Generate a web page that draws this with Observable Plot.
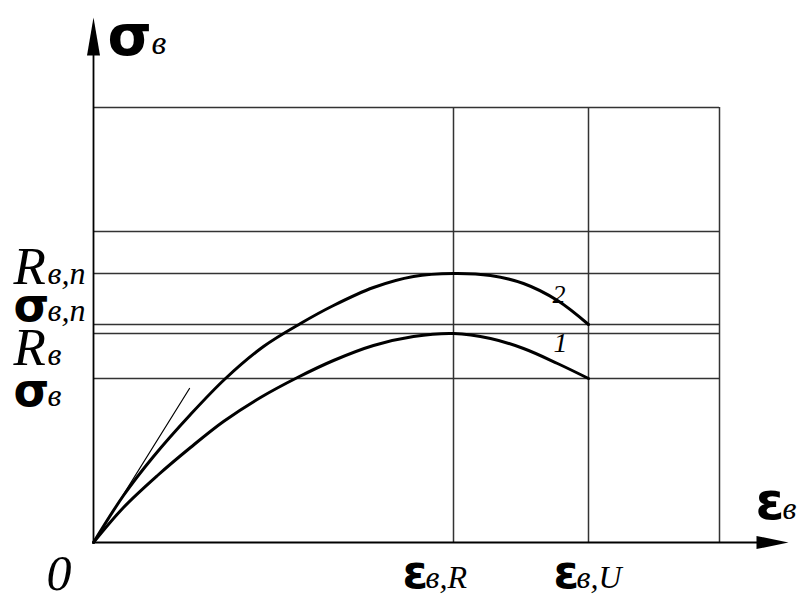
<!DOCTYPE html>
<html>
<head>
<meta charset="utf-8">
<script src="https://cdn.jsdelivr.net/npm/d3@7"></script>
<script src="https://cdn.jsdelivr.net/npm/@observablehq/plot@0.6"></script>
<style>
  html, body { margin: 0; padding: 0; background: #fff; }
  #chart svg { display: block; overflow: visible; }
</style>
</head>
<body>
<div id="chart"></div>
<script>
// Stress–strain diagram of concrete (arbitrary units).
// Curve 1 — design diagram, curve 2 — normative diagram.

// strain axis: characteristic strains and frame edge
const strainTicks = [3.60, 4.95];
const strainTickMain = ["ε", "ε"];
const strainTickSub = ["в,R", "в,U"];
const frameRight = 6.26;
const strainAxisEnd = 6.95;

// stress axis: characteristic stresses and frame lines
const stressLevels = [1.64, 2.09, 2.18, 2.69];
const stressMain = ["σ", "R", "σ", "R"];
const stressSub = ["в", "в", "в,n", "в,n"];
const frameLevels = [3.11, 4.35];
const stressAxisEnd = 5.25;

// curve 1: strain, stress
const curve1X = [0, 0.30, 0.64, 0.97, 1.30, 1.67, 2.04, 2.40, 2.80, 3.20, 3.60, 3.97, 4.30, 4.64, 4.95];
const curve1Y = [0, 0.35, 0.67, 0.95, 1.21, 1.45, 1.65, 1.82, 1.97, 2.06, 2.09, 2.04, 1.94, 1.79, 1.64];

// curve 2: strain, stress
const curve2X = [0, 0.30, 0.60, 0.97, 1.32, 1.70, 2.07, 2.40, 2.80, 3.20, 3.60, 3.97, 4.30, 4.64, 4.95];
const curve2Y = [0, 0.47, 0.86, 1.28, 1.64, 1.96, 2.19, 2.37, 2.55, 2.66, 2.69, 2.67, 2.59, 2.42, 2.18];

// initial tangent (elastic modulus)
const tangentX = [0, 0.96];
const tangentY = [0, 1.54];

const curveNames = ["1", "2"];

const zip = (xs, ys) => xs.map((x, i) => ({x, y: ys[i]}));
const curve1 = zip(curve1X, curve1Y);
const curve2 = zip(curve2X, curve2Y);
const tangent = zip(tangentX, tangentY);

const SANS = "DejaVu Sans";
const SERIF = "Liberation Serif";

// filled arrowheads, tip at the symbol origin
const arrowUp = {draw(ctx) { ctx.moveTo(0, 0); ctx.lineTo(6.5, 38); ctx.lineTo(-6.5, 38); ctx.closePath(); }};
const arrowRight = {draw(ctx) { ctx.moveTo(0, 0); ctx.lineTo(-32, -6.5); ctx.lineTo(-32, 6.5); ctx.closePath(); }};

const levelRows = stressLevels.map((v, i) => ({v, main: stressMain[i], sub: stressSub[i]}));
const levelNudge = [27, 31, -4, 10]; // baseline offsets of the stress labels
const strainNudge = [-51, -35];       // horizontal offsets of the strain labels

const gridStyle = {stroke: "#333", strokeWidth: 1.5};
const textBase = {fill: "black", stroke: null, lineAnchor: "bottom", textAnchor: "start"};

const marks = [
  // frame grid
  Plot.ruleY(stressLevels, {y: d => d, x1: 0, x2: frameRight, ...gridStyle}),
  Plot.ruleY(frameLevels, {y: d => d, x1: 0, x2: frameRight, ...gridStyle}),
  Plot.ruleX(strainTicks, {x: d => d, y1: 0, y2: frameLevels[1], ...gridStyle}),
  Plot.ruleX([frameRight], {x: d => d, y1: 0, y2: frameLevels[1], ...gridStyle}),
  // axes with arrows
  Plot.ruleX([0], {x: d => d, y1: 0, y2: stressAxisEnd - 0.3, stroke: "black", strokeWidth: 1.8}),
  Plot.ruleY([0], {y: d => d, x1: 0, x2: strainAxisEnd - 0.25, stroke: "black", strokeWidth: 1.8}),
  Plot.dot([{x: 0, y: stressAxisEnd}], {x: "x", y: "y", symbol: arrowUp, fill: "black", stroke: null}),
  Plot.dot([{x: strainAxisEnd, y: 0}], {x: "x", y: "y", symbol: arrowRight, fill: "black", stroke: null}),
  // tangent and curves
  Plot.line(tangent, {x: "x", y: "y", stroke: "black", strokeWidth: 1.2}),
  Plot.line(curve1, {x: "x", y: "y", curve: "catmull-rom", stroke: "black", strokeWidth: 3}),
  Plot.line(curve2, {x: "x", y: "y", curve: "catmull-rom", stroke: "black", strokeWidth: 3}),
  // curve numbers
  Plot.text([curveNames[0]], {...textBase, x: strainTicks[1], y: stressLevels[0], text: d => d, dx: -35, dy: -27,
    fontFamily: SERIF, fontStyle: "italic", fontSize: 28}),
  Plot.text([curveNames[1]], {...textBase, x: strainTicks[1], y: stressLevels[2], text: d => d, dx: -36, dy: -22,
    fontFamily: SERIF, fontStyle: "italic", fontSize: 26}),
  // axis titles
  Plot.text(["σ"], {...textBase, x: 0, y: stressAxisEnd, text: d => d, dx: 14, dy: 37,
    fontFamily: SANS, fontWeight: "bold", fontSize: 57}),
  Plot.text(["в"], {...textBase, x: 0, y: stressAxisEnd, text: d => d, dx: 58, dy: 36,
    fontFamily: SERIF, fontStyle: "italic", fontSize: 34}),
  Plot.text(["ε"], {...textBase, x: strainAxisEnd, y: 0, text: d => d, dx: -33, dy: -24,
    fontFamily: SANS, fontWeight: "bold", fontSize: 52}),
  Plot.text(["в"], {...textBase, x: strainAxisEnd, y: 0, text: d => d, dx: -6, dy: -24,
    fontFamily: SERIF, fontStyle: "italic", fontSize: 32}),
  Plot.text(["0"], {...textBase, x: 0, y: 0, text: d => d, dx: -47, dy: 47,
    fontFamily: SERIF, fontStyle: "italic", fontSize: 50}),
];

// stress labels on the left
levelRows.forEach((r, i) => {
  const serifMain = r.main === "R";
  marks.push(Plot.text([r], {...textBase, x: 0, y: "v", text: "main", dx: -80, dy: levelNudge[i],
    fontFamily: serifMain ? SERIF : SANS, fontStyle: serifMain ? "italic" : "normal",
    fontWeight: serifMain ? "normal" : "bold", fontSize: serifMain ? 53 : 46}));
  marks.push(Plot.text([r], {...textBase, x: 0, y: "v", text: "sub", dx: -46, dy: levelNudge[i],
    fontFamily: SERIF, fontStyle: "italic", fontSize: 32}));
});

// strain labels below the axis
strainTicks.forEach((t, i) => {
  marks.push(Plot.text([t], {...textBase, x: d => d, y: 0, text: () => strainTickMain[i], dx: strainNudge[i], dy: 45,
    fontFamily: SANS, fontWeight: "bold", fontSize: 46}));
  marks.push(Plot.text([t], {...textBase, x: d => d, y: 0, text: () => strainTickSub[i], dx: strainNudge[i] + 23, dy: 45,
    fontFamily: SERIF, fontStyle: "italic", fontSize: 32}));
});

const chart = Plot.plot({
  width: 797,
  height: 600,
  marginLeft: 93,
  marginRight: 0,
  marginTop: 0,
  marginBottom: 58,
  x: {domain: [0, 7.04], axis: null},
  y: {domain: [0, 5.42], axis: null},
  style: {background: "white", overflow: "visible"},
  marks
});
document.getElementById("chart").appendChild(chart);
</script>
</body>
</html>
